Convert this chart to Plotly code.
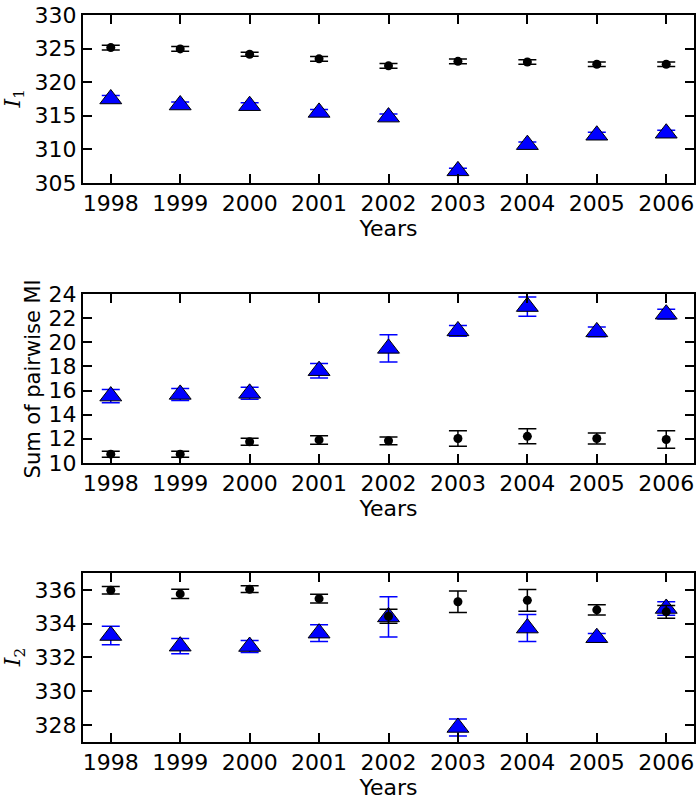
import plotly.graph_objects as go
from plotly.subplots import make_subplots

years = [1998, 1999, 2000, 2001, 2002, 2003, 2004, 2005, 2006]

# panel 1: I_1
i1_black = [325.15, 324.95, 324.16, 323.47, 322.43, 323.10, 323.00, 322.67, 322.67]
i1_black_err = [0.35, 0.35, 0.3, 0.35, 0.35, 0.35, 0.35, 0.35, 0.35]
i1_blue = [317.5, 316.6, 316.5, 315.5, 314.8, 306.8, 310.7, 312.1, 312.4]
i1_blue_err = [0.5, 0.45, 0.45, 0.45, 0.45, 0.4, 0.4, 0.45, 0.45]

# panel 2: sum of pairwise MI
mi_black = [10.72, 10.72, 11.75, 11.90, 11.83, 12.02, 12.20, 12.02, 11.94]
mi_black_err = [0.25, 0.25, 0.3, 0.35, 0.32, 0.65, 0.62, 0.45, 0.73]
mi_blue = [15.54, 15.68, 15.77, 17.65, 19.50, 20.95, 22.97, 20.87, 22.34]
mi_blue_err = [0.55, 0.5, 0.5, 0.6, 1.14, 0.45, 0.8, 0.4, 0.4]

# panel 3: I_2
i2_black = [335.98, 335.76, 336.04, 335.48, 334.44, 335.30, 335.38, 334.82, 334.70]
i2_black_err = [0.22, 0.27, 0.2, 0.26, 0.42, 0.64, 0.64, 0.3, 0.38]
i2_blue = [333.30, 332.67, 332.65, 333.44, 334.40, 327.86, 333.74, 333.17, 334.90]
i2_blue_err = [0.55, 0.45, 0.35, 0.5, 1.19, 0.5, 0.8, 0.25, 0.4]

panels = [
    (i1_black, i1_black_err, i1_blue, i1_blue_err),
    (mi_black, mi_black_err, mi_blue, mi_blue_err),
    (i2_black, i2_black_err, i2_blue, i2_blue_err),
]

fig = make_subplots(rows=3, cols=1)

for row, (bk, bk_err, bl, bl_err) in enumerate(panels, start=1):
    fig.add_trace(go.Scatter(
        x=years, y=bl, mode="markers",
        marker=dict(symbol="triangle-up", size=19, color="#0000ff",
                    line=dict(color="black", width=1)),
        error_y=dict(type="data", array=bl_err, color="#0000ff",
                     thickness=1.5, width=9),
        showlegend=False), row=row, col=1)
    fig.add_trace(go.Scatter(
        x=years, y=bk, mode="markers",
        marker=dict(symbol="circle", size=9, color="black"),
        error_y=dict(type="data", array=bk_err, color="black",
                     thickness=1.5, width=9),
        showlegend=False), row=row, col=1)

axis_style = dict(showline=True, linewidth=2, linecolor="black", mirror="ticks",
                  ticks="inside", ticklen=9, tickwidth=1.5, tickcolor="black",
                  showgrid=False, zeroline=False, automargin=False,
                  tickfont=dict(family="DejaVu Sans", size=22, color="black"))

fig.update_xaxes(range=[1997.6, 2006.4], tickvals=years,
                 ticktext=[str(y) for y in years],
                 title=dict(text="Years", standoff=0,
                            font=dict(family="DejaVu Sans", size=22, color="black")),
                 **axis_style)
fig.update_yaxes(**axis_style)

fig.update_yaxes(range=[305, 330], tickvals=[305, 310, 315, 320, 325, 330], row=1, col=1)
fig.update_yaxes(range=[10, 24], tickvals=[10, 12, 14, 16, 18, 20, 22, 24], row=2, col=1)
fig.update_yaxes(range=[327, 337], tickvals=[328, 330, 332, 334, 336], row=3, col=1)

fig.update_layout(
    yaxis=dict(domain=[0.769, 1.0]),
    yaxis2=dict(domain=[0.384, 0.616]),
    yaxis3=dict(domain=[0.0, 0.2325]),
)

# y-axis labels as annotations so they sit where the original puts them
ylabels = [
    ("<i>I</i><sub>1</sub>", -0.112, 0.8845, "DejaVu Serif", 22),
    ("Sum of pairwise MI", -0.082, 0.50, "DejaVu Sans", 21),
    ("<i>I</i><sub>2</sub>", -0.112, 0.116, "DejaVu Serif", 22),
]
for text, x, y, fam, size in ylabels:
    fig.add_annotation(text=text, xref="paper", yref="paper", x=x, y=y,
                       xanchor="center", yanchor="middle", textangle=-90,
                       showarrow=False,
                       font=dict(family=fam, size=size, color="black"))

fig.update_layout(
    width=700, height=801,
    margin=dict(l=83, r=6, t=15, b=59),
    plot_bgcolor="white", paper_bgcolor="white",
)

# page body has a default 8px margin, drop it so the figure fills the window
fig.write_html("out.html", config={"displayModeBar": False},
               post_script="document.body.style.margin='0px';")
